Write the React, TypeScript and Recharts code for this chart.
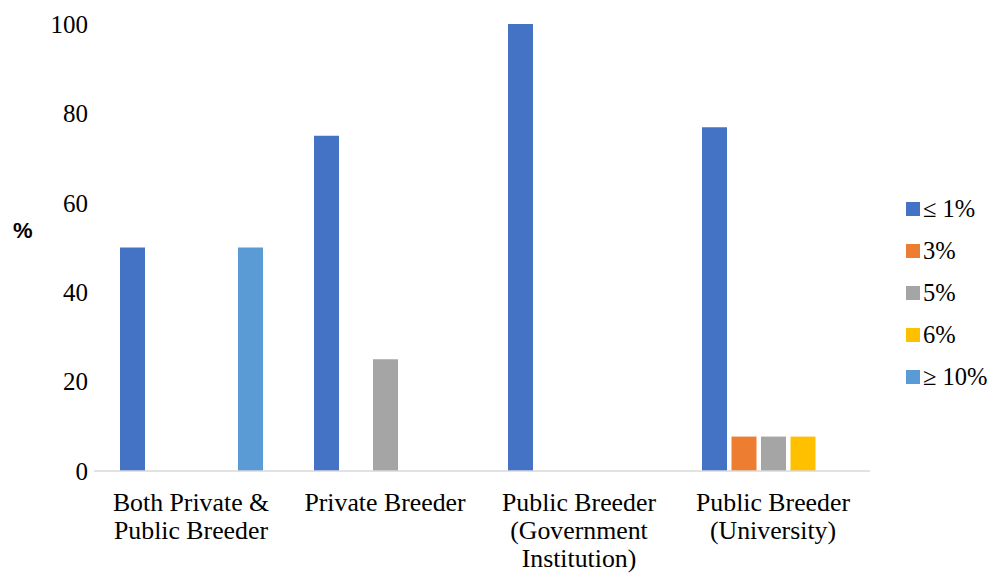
import React from 'react';
import { BarChart, Bar, XAxis, YAxis } from 'recharts';

const categories = [
  'Both Private & Public Breeder',
  'Private Breeder',
  'Public Breeder (Government Institution)',
  'Public Breeder (University)',
];
const tickLines = [
  ['Both Private &', 'Public Breeder'],
  ['Private Breeder'],
  ['Public Breeder', '(Government', 'Institution)'],
  ['Public Breeder', '(University)'],
];
const le1 = [50, 75, 100, 76.9];
const p3 = [0, 0, 0, 7.7];
const p5 = [0, 25, 0, 7.7];
const p6 = [0, 0, 0, 7.7];
const ge10 = [50, 0, 0, 0];
const seriesNames = ['≤ 1%', '3%', '5%', '6%', '≥ 10%'];
const seriesKeys = ['le1', 'p3', 'p5', 'p6', 'ge10'];
const seriesColors = ['#4472C4', '#ED7D31', '#A5A5A5', '#FFC000', '#5B9BD5'];
const yTicks = [0, 20, 40, 60, 80, 100];

const data = categories.map((c, i) => ({
  name: c,
  le1: le1[i],
  p3: p3[i],
  p5: p5[i],
  p6: p6[i],
  ge10: ge10[i],
}));

const FONT = "'Liberation Serif', 'Times New Roman', serif";

const XTick = (props: any) => {
  const { x, y, payload } = props;
  const lines = tickLines[payload.index] || [String(payload.value)];
  return (
    <text x={x} y={y} textAnchor="middle" fontFamily={FONT} fontSize={25.8} fill="#000">
      {lines.map((l, i) => (
        <tspan key={i} x={x} dy={i === 0 ? 40 : 28}>
          {l}
        </tspan>
      ))}
    </text>
  );
};

export default function App() {
  return (
    <div style={{ position: 'absolute', left: 0, top: 0, width: 992, height: 573, background: '#fff' }}>
      <BarChart
        width={992}
        height={573}
        data={data}
        margin={{ top: 24, right: 122, bottom: 0, left: 0 }}
        barGap={4.5}
        barSize={25}
      >
        <XAxis
          dataKey="name"
          tick={<XTick />}
          tickLine={false}
          tickSize={0}
          tickMargin={0}
          height={102}
          axisLine={{ stroke: '#d9d9d9', strokeWidth: 1.5 }}
          interval={0}
        />
        <YAxis
          width={94}
          domain={[0, 100]}
          ticks={yTicks}
          axisLine={false}
          tickLine={false}
          tickSize={0}
          tickMargin={6}
          tick={{ fontFamily: FONT, fontSize: 25, fill: '#000' }}
        />
        {seriesKeys.map((k, i) => (
          <Bar key={k} dataKey={k} name={seriesNames[i]} fill={seriesColors[i]} isAnimationActive={false} />
        ))}
      </BarChart>
      <div style={{ position: 'absolute', left: 906, top: 188, fontFamily: FONT, fontSize: 24.5, color: '#000' }}>
        {seriesNames.map((n, i) => (
          <div key={n} style={{ display: 'flex', alignItems: 'center', height: 42 }}>
            <div style={{ width: 14, height: 14, background: seriesColors[i], marginRight: 3 }} />
            <span style={{ fontFamily: FONT }}>{n}</span>
          </div>
        ))}
      </div>
      <div
        style={{
          position: 'absolute',
          left: 13,
          top: 218,
          fontFamily: "'Liberation Sans', Arial, sans-serif",
          fontWeight: 'bold',
          fontSize: 22,
          color: '#000',
        }}
      >
        %
      </div>
    </div>
  );
}
